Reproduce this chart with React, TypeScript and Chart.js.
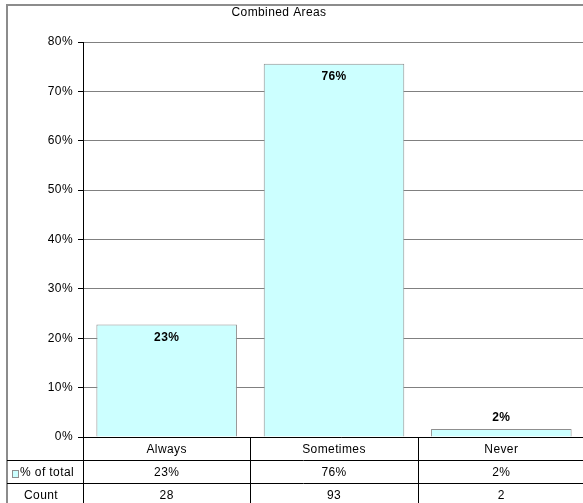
import React, { useEffect, useRef } from "react";
import { Chart, registerables } from "chart.js";

Chart.register(...registerables);

const chartTitle = "Combined Areas";
const categories = ["Always", "Sometimes", "Never"];
const pctValues = [22.76, 75.61, 1.63];
const pctLabels = ["23%", "76%", "2%"];
const counts = [28, 93, 2];
const seriesName = "% of total";
const countRowName = "Count";
const yMax = 80;
const yStep = 10;

const FONT = '"Liberation Sans", Arial, sans-serif';
const BAR_FILL = "#CCFFFF";
const BAR_BORDER = "#8f8f8f";

const tablePlugin = {
  id: "excelTable",
  afterDraw(chart: any) {
    const ctx = chart.ctx as any;
    const area = chart.chartArea;
    const xs = chart.scales.x;
    const ys = chart.scales.y;
    const meta = chart.getDatasetMeta(0);
    const n = categories.length;
    const colW = (area.right - area.left) / n;
    const rowH = 23;
    const top = area.bottom;
    const frameL = 7;
    ctx.save();
    ctx.letterSpacing = "0.4px";

    // frame
    ctx.fillStyle = "#8c8c8c";
    ctx.fillRect(frameL - 1, 4, chart.width, 2);
    ctx.fillRect(frameL - 1, 4, 2, chart.height);

    // title
    ctx.fillStyle = "#000";
    ctx.font = `12px ${FONT}`;
    ctx.textAlign = "center";
    ctx.textBaseline = "middle";
    ctx.fillText(chartTitle, 279, 13);

    // y tick labels
    ctx.textAlign = "right";
    ys.ticks.forEach((t: any) => {
      ctx.fillText(`${t.value}%`, 73, ys.getPixelForValue(t.value));
    });
    ctx.textAlign = "center";

    // data labels
    ctx.font = `bold 12px ${FONT}`;
    meta.data.forEach((bar: any, i: number) => {
      const h = area.bottom - bar.y;
      const y = h > 22 ? bar.y + 13 : bar.y - 11;
      ctx.fillText(pctLabels[i], bar.x, y);
    });

    // table lines
    ctx.strokeStyle = "#000";
    ctx.lineWidth = 1;
    ctx.beginPath();
    ctx.moveTo(area.left, Math.round(top) + 0.5);
    ctx.lineTo(chart.width, Math.round(top) + 0.5);
    for (let r = 1; r <= 2; r++) {
      const y = Math.round(top + r * rowH) + 0.5;
      ctx.moveTo(frameL, y);
      ctx.lineTo(chart.width, y);
    }
    for (let c = 0; c <= n; c++) {
      const x = Math.round(area.left + c * colW) + 0.5;
      ctx.moveTo(x, top);
      ctx.lineTo(x, chart.height);
    }
    ctx.stroke();

    // table text
    ctx.font = `12px ${FONT}`;
    ctx.fillStyle = "#000";
    for (let i = 0; i < n; i++) {
      const cx = xs.getPixelForValue(i);
      ctx.fillText(categories[i], cx, top + rowH / 2 + 1);
      ctx.fillText(pctLabels[i], cx, top + rowH * 1.5 + 1);
      ctx.fillText(String(counts[i]), cx, top + rowH * 2.5 + 1);
    }
    // row headers
    ctx.fillStyle = BAR_FILL;
    ctx.fillRect(12, top + rowH + 10, 6, 7);
    ctx.strokeStyle = BAR_BORDER;
    ctx.strokeRect(12.5, top + rowH + 10.5, 6, 7);
    ctx.fillStyle = "#000";
    ctx.textAlign = "left";
    ctx.fillText(seriesName, 20, top + rowH * 1.5 + 1);
    ctx.textAlign = "center";
    ctx.fillText(countRowName, 41, top + rowH * 2.5 + 1);
    ctx.restore();
  },
};

export default function App() {
  const ref = useRef<HTMLCanvasElement | null>(null);
  useEffect(() => {
    if (!ref.current) return;
    const chart = new Chart(ref.current, {
      type: "bar",
      data: {
        labels: categories,
        datasets: [
          {
            label: seriesName,
            data: pctValues,
            backgroundColor: BAR_FILL,
            borderColor: BAR_BORDER,
            borderWidth: 1,
            barPercentage: 0.84,
            categoryPercentage: 1,
          },
        ],
      },
      options: {
        responsive: false,
        animation: false,
        devicePixelRatio: 1,
        layout: { padding: { left: 0, top: 42, right: 15, bottom: 73 } },
        plugins: {
          legend: { display: false },
          title: { display: false },
          tooltip: { enabled: false },
        },
        scales: {
          x: { display: false },
          y: {
            min: 0,
            max: yMax,
            ticks: {
              stepSize: yStep,
              padding: 5,
              color: "rgba(0,0,0,0)",
              font: { family: FONT, size: 11 },
              callback: (v: any) => `${v}%`,
            },
            grid: { color: "#808080", tickColor: "#000", tickLength: 5, lineWidth: 1 },
            border: { display: true, color: "#000", width: 1 },
            afterFit: (scale: any) => {
              scale.width = 83;
            },
          },
        },
      },
      plugins: [tablePlugin],
    });
    return () => chart.destroy();
  }, []);
  return (
    <div style={{ position: "absolute", left: 0, top: 0, width: 583, height: 503, overflow: "hidden", background: "#fff" }}>
      <canvas ref={ref} width={600} height={510} style={{ display: "block", width: 600, height: 510 }} />
    </div>
  );
}
